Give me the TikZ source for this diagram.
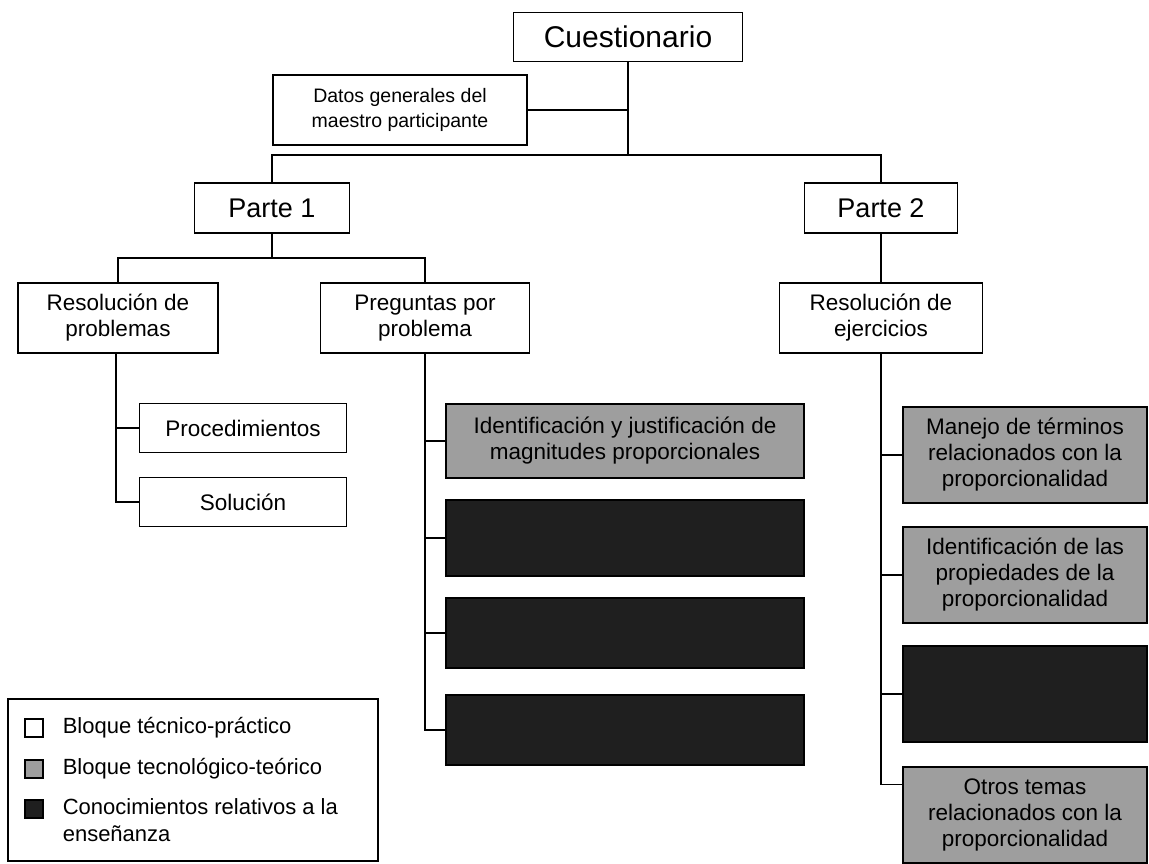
\documentclass[tikz,border=0pt]{standalone}
\usepackage{fontspec}
\setmainfont{Liberation Sans}
\usetikzlibrary{calc}
\begin{document}
\begin{tikzpicture}[x=1pt,y=-1pt,
  line width=1.6pt,
  box/.style={draw=black,line width=1.8pt,fill=white,inner sep=0pt,align=center},
  lightbox/.style={box,fill=black!38},
  darkbox/.style={box,fill=black!88},
  link/.style={draw=black,line width=1.6pt},
  fA/.style={font=\fontsize{30}{34}\selectfont},
  fB/.style={font=\fontsize{27}{31}\selectfont},
  fC/.style={font=\fontsize{22.5}{26}\selectfont},
  fD/.style={font=\fontsize{19.5}{25}\selectfont},
  fE/.style={font=\fontsize{22.5}{26}\selectfont},
  fL/.style={font=\fontsize{22}{27}\selectfont}
]
\useasboundingbox (0,0) rectangle (1149,864);

% top level
\node[box,fA,minimum width=229,minimum height=49] (cuest) at (628,37) {Cuestionario};
\node[box,fD,minimum width=254,minimum height=70] (datos) at (400,110) {Datos generales del\\maestro participante};

% parts
\node[box,fB,minimum width=155,minimum height=50] (p1) at (272,208) {Parte 1};
\node[box,fB,minimum width=153,minimum height=50] (p2) at (881,208) {Parte 2};

% second level
\node[box,fC,minimum width=200,minimum height=70] (rp) at (118,318) {Resolución de\\problemas};
\node[box,fC,minimum width=209,minimum height=70] (pp) at (425,318) {Preguntas por\\problema};
\node[box,fC,minimum width=203,minimum height=70] (rej) at (881,318) {Resolución de\\ejercicios};

% under "Resolución de problemas"
\node[box,fC,minimum width=207,minimum height=49] (proc) at (243,428) {Procedimientos};
\node[box,fC,minimum width=207,minimum height=49] (sol) at (243,502) {Solución};

% under "Preguntas por problema"
\node[lightbox,fE,minimum width=358,minimum height=74] (g1) at (625,441) {Identificación y justificación de\\magnitudes proporcionales};
\node[darkbox,minimum width=358,minimum height=76] (d1) at (625,538) {};
\node[darkbox,minimum width=358,minimum height=70] (d2) at (625,633) {};
\node[darkbox,minimum width=358,minimum height=70] (d3) at (625,730) {};

% under "Resolución de ejercicios"
\node[lightbox,fE,minimum width=244,minimum height=96] (r1) at (1025,455) {Manejo de términos\\relacionados con la\\proporcionalidad};
\node[lightbox,fE,minimum width=244,minimum height=96] (r2) at (1025,575) {Identificación de las\\propiedades de la\\proporcionalidad};
\node[darkbox,minimum width=244,minimum height=96] (r3) at (1025,694) {};
\node[lightbox,fE,minimum width=244,minimum height=96] (r4) at (1025,815) {Otros temas\\relacionados con la\\proporcionalidad};

% junction points
\coordinate (top) at (cuest.south |- 0,155);
\coordinate (b1) at (p1.south |- 0,258);
\coordinate (r4in) at ($(r4.north west)!0.19!(r4.south west)$);

% connectors: top level
\draw[link] (cuest.south) -- (top);
\draw[link] (datos.east) -- (datos.east -| top);
\draw[link] (p1.north) |- (top) -| (p2.north);

% connectors: parts
\draw[link] (p1.south) -- (b1);
\draw[link] (rp.north) |- (b1) -| (pp.north);
\draw[link] (p2.south) -- (rej.north);

% connectors: branches
\draw[link] (rp.south -| 116,0) |- (sol.west);
\draw[link] (proc.west) -- (proc.west -| 116,0);
\draw[link] (pp.south) |- (d3.west);
\draw[link] (g1.west) -- (g1.west -| pp.south);
\draw[link] (d1.west) -- (d1.west -| pp.south);
\draw[link] (d2.west) -- (d2.west -| pp.south);
\draw[link] (rej.south) |- (r4in);
\draw[link] (r1.west) -- (r1.west -| rej.south);
\draw[link] (r2.west) -- (r2.west -| rej.south);
\draw[link] (r3.west) -- (r3.west -| rej.south);

% legend
\node[draw=black,line width=1.8pt,minimum width=370,minimum height=162,inner sep=0pt] (leg) at (193,780) {};
\node[box,minimum width=18,minimum height=18] (k1) at (34,728) {};
\node[lightbox,minimum width=18,minimum height=18] (k2) at (34,769) {};
\node[darkbox,minimum width=18,minimum height=18] (k3) at (34,809) {};
\node[fL,anchor=west,inner sep=0pt] (t1) at (62,728) {Bloque técnico-práctico};
\node[fL,anchor=west,inner sep=0pt] (t2) at (62,769) {Bloque tecnológico-teórico};
\node[fL,anchor=north west,inner sep=0pt,align=left] (t3) at (62,798) {Conocimientos relativos a la\\enseñanza};
\end{tikzpicture}
\end{document}
